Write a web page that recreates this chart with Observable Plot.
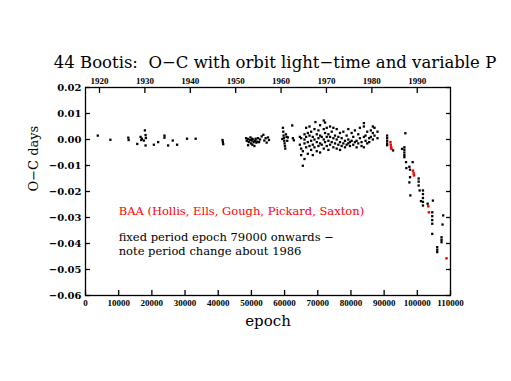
<!DOCTYPE html>
<html>
<head>
<meta charset="utf-8">
<script src="https://cdn.jsdelivr.net/npm/d3@7"></script>
<script src="https://cdn.jsdelivr.net/npm/@observablehq/plot@0.6"></script>
<style>
  html, body { margin: 0; padding: 0; background: #fff; }
  svg { display: block; }
</style>
</head>
<body>
<div id="chart"></div>
<script>
// Black observations: [epoch, O-C days]
const blackObs = [
  [3700,0.0015],[7500,-0.0001],[12900,0.0007],[13000,-0.0002],[15600,-0.0017],[16600,0.0010],[16800,-0.0002],
  [17000,0.0003],[17600,-0.0004],[17900,0.0035],[18100,0.0017],[18100,-0.0023],[18200,0.0006],[20600,-0.0020],
  [21900,-0.0010],[23800,0.0015],[23800,0.0007],[24900,-0.0023],[26300,-0.0004],[27600,-0.0020],[30600,0.0003],
  [33200,0.0003],
  [41300,-0.0002],[41400,-0.0010],[41500,-0.0018],
  [48400,0.0005],[48600,-0.0005],[48900,0.0002],[49000,-0.0022],[49200,-0.0010],[49500,-0.0002],[49700,0.0008],
  [49900,-0.0015],[50100,-0.0004],[50200,0.0003],[50300,-0.0020],[50500,0.0000],[50700,-0.0010],[50900,-0.0025],
  [51100,-0.0005],[51300,0.0003],[51500,-0.0012],[51700,-0.0008],
  [52000,0.0005],[52300,-0.0010],[52600,0.0000],[53100,0.0012],[53600,0.0018],[53900,-0.0004],[54300,0.0005],
  [54600,-0.0012],[55000,0.0008],[55300,-0.0002],
  [59300,0.0002],[59500,0.0045],[59600,0.0030],[59700,0.0015],[59800,0.0005],[59900,-0.0005],[60000,-0.0015],
  [60100,-0.0025],[60200,-0.0035],[60400,0.0020],[60600,0.0010],[60800,-0.0005],[61000,0.0008],
  [62300,0.0054],[62500,0.0005],[62800,-0.0003],
  [64600,0.0010],[64600,-0.0020],[65000,-0.0035],[65000,0.0005],[65000,-0.0060],[65500,-0.0101],[65500,-0.0045],
  [66000,0.0000],[66000,-0.0015],[66000,0.0020],[66000,-0.0075],[66500,-0.0030],[66500,0.0045],[66500,0.0010],
  [67000,-0.0010],[67000,-0.0055],[67000,0.0025],[67500,0.0015],[67500,-0.0025],[67500,0.0050],
  [68000,-0.0005],[68000,0.0030],[68000,-0.0040],[68500,0.0010],[68500,-0.0020],[68500,-0.0060],
  [69000,0.0040],[69000,0.0000],[69000,-0.0030],[69300,0.0067],[69700,0.0020],[69700,-0.0010],[69700,-0.0045],
  [70200,0.0035],[70200,0.0005],[70200,-0.0025],[70700,0.0055],[70700,0.0015],[70700,-0.0015],[70700,-0.0050],
  [71200,0.0010],[71200,-0.0020],[71800,0.0073],[71800,0.0040],[71800,0.0000],[71800,-0.0035],
  [72200,0.0065],[72200,0.0025],[72200,-0.0010],[72700,0.0045],[72700,0.0010],[72700,-0.0025],
  [73200,0.0020],[73200,-0.0005],[73200,-0.0040],[73700,0.0050],[73700,0.0010],[73700,-0.0020],
  [74200,0.0030],[74200,-0.0010],[74700,0.0045],[74700,0.0005],[74700,-0.0030],[75200,0.0015],[75200,-0.0015],
  [75700,0.0040],[75700,0.0000],[75700,-0.0035],[76200,0.0010],[76200,-0.0020],[76700,0.0025],[76700,-0.0010],
  [76700,-0.0040],[77200,0.0005],[77200,-0.0025],[77700,0.0030],[77700,-0.0015],[78200,-0.0005],[78200,-0.0030],
  [78700,0.0015],[78700,-0.0020],[79200,0.0040],[79200,0.0000],[79200,-0.0015],[79700,-0.0010],[79700,-0.0025],
  [80200,0.0025],[80200,-0.0005],[80700,0.0010],[80700,-0.0020],[81200,0.0035],[81200,-0.0010],
  [81700,-0.0005],[81700,-0.0030],[82200,0.0020],[82200,-0.0015],[82700,0.0045],[82700,0.0005],
  [83200,-0.0010],[83200,-0.0025],[83900,0.0063],[83900,0.0050],[83900,0.0010],[83900,-0.0030],
  [84400,0.0015],[84400,-0.0005],[84900,0.0030],[84900,-0.0015],[85500,0.0005],[85500,-0.0010],
  [86000,0.0035],[86000,0.0010],[86600,0.0050],[86600,0.0025],[86600,0.0000],[87100,0.0045],[87100,0.0015],
  [88000,0.0030],[88000,0.0005],
  [90900,0.0015],[90900,0.0005],[90900,-0.0005],[90900,-0.0015],[90900,-0.0022],[92700,-0.0042],
  [95400,-0.0036],[96400,0.0024],[96100,-0.0030],[96100,-0.0040],[96100,-0.0050],[96100,-0.0060],[96100,-0.0068],
  [96600,-0.0087],[96700,-0.0110],[97600,-0.0105],[97800,-0.0116],[98600,-0.0087],[97800,-0.0145],[97600,-0.0165],
  [100400,-0.0150],[100400,-0.0162],[100400,-0.0177],[97900,-0.0215],[100700,-0.0196],
  [101700,-0.0196],[101700,-0.0210],[101700,-0.0225],[101700,-0.0240],[101700,-0.0254],[101100,-0.0237],
  [103100,-0.0247],[104700,-0.0235],[104500,-0.0280],[104500,-0.0295],[104500,-0.0310],[104500,-0.0324],
  [104500,-0.0363],[107800,-0.0292],[107600,-0.0327],[107300,-0.0376],[107300,-0.0386],[107300,-0.0395],
  [106000,-0.0414],[106000,-0.0424],[106000,-0.0433]
];
// Red (BAA) observations
const redObs = [
  [91900,-0.0010],[92000,-0.0020],[92100,-0.0030],[92200,-0.0036],
  [98700,-0.0120],[98900,-0.0130],[99000,-0.0138],
  [103300,-0.0257],[103500,-0.0280],
  [108800,-0.0457]
];
const epochTicks = [0,10000,20000,30000,40000,50000,60000,70000,80000,90000,100000,110000];
const yTicks = [-0.06,-0.05,-0.04,-0.03,-0.02,-0.01,0,0.01,0.02];
const yearTicks = [1920,1930,1940,1950,1960,1970,1980,1990];
const yearEpochs = [4220,17900,31580,45260,58940,72620,86300,99980]; // epoch at each year tick
const titleText = "44 Bootis:  O\u2212C with orbit light\u2212time and variable P";
const notes = [
  {x: 10000, y: -0.0278, text: "BAA (Hollis, Ells, Gough, Pickard, Saxton)", color: "#ff0000"},
  {x: 10000, y: -0.0377, text: "fixed period epoch 79000 onwards \u2212", color: "#000000"},
  {x: 10000, y: -0.0431, text: "note period change about 1986", color: "#000000"}
];

const fmtY = d => (d < 0 ? "\u2212" : "") + Math.abs(d).toFixed(2);
const yearOf = new Map(yearEpochs.map((e, i) => [e, yearTicks[i]]));

const chart = Plot.plot({
  width: 511,
  height: 381,
  marginLeft: 85,
  marginRight: 61,
  marginTop: 87,
  marginBottom: 86,
  style: {background: "#fff", color: "#000"},
  x: {domain: [0, 110000]},
  y: {domain: [-0.06, 0.02]},
  marks: [
    Plot.frame({stroke: "#000", strokeWidth: 1.3}),
    Plot.axisX({anchor: "bottom", ticks: epochTicks, tickSize: -5, tickPadding: 9, tickFormat: d => String(d),
      fontFamily: "Liberation Serif", fontWeight: "bold", fontSize: 9, label: null, strokeWidth: 1.3}),
    Plot.axisX({anchor: "top", ticks: yearEpochs, tickSize: -5, tickPadding: 9, tickFormat: d => String(yearOf.get(d)),
      fontFamily: "Liberation Serif", fontWeight: "bold", fontSize: 9, label: null, strokeWidth: 1.3}),
    Plot.axisY({anchor: "left", ticks: yTicks, tickSize: -5, tickPadding: 9, tickFormat: fmtY,
      fontFamily: "DejaVu Serif", fontWeight: "bold", fontSize: 10, label: null, strokeWidth: 1.3}),
    Plot.axisY({anchor: "right", ticks: yTicks, tickSize: -5, tickFormat: () => "", label: null, strokeWidth: 1.3}),
    Plot.dot(blackObs, {x: d => d[0], y: d => d[1], symbol: "square", r: 1.3, fill: "#000", stroke: null}),
    Plot.dot(redObs, {x: d => d[0], y: d => d[1], symbol: "square", r: 1.4, fill: "#ff0000", stroke: null}),
    Plot.text(notes, {x: "x", y: "y", text: "text", fill: "color", textAnchor: "start",
      fontFamily: "DejaVu Serif", fontSize: 11.5}),
    Plot.text([titleText], {frameAnchor: "top", dy: -31, dx: 7, fontFamily: "DejaVu Serif", fontSize: 16.5}),
    Plot.text(["epoch"], {frameAnchor: "bottom", dy: 30, fontFamily: "DejaVu Serif", fontSize: 15}),
    Plot.text(["O\u2212C days"], {frameAnchor: "left", dx: -52, rotate: -90, fontFamily: "DejaVu Serif", fontSize: 13})
  ]
});
document.getElementById("chart").appendChild(chart);
</script>
</body>
</html>
